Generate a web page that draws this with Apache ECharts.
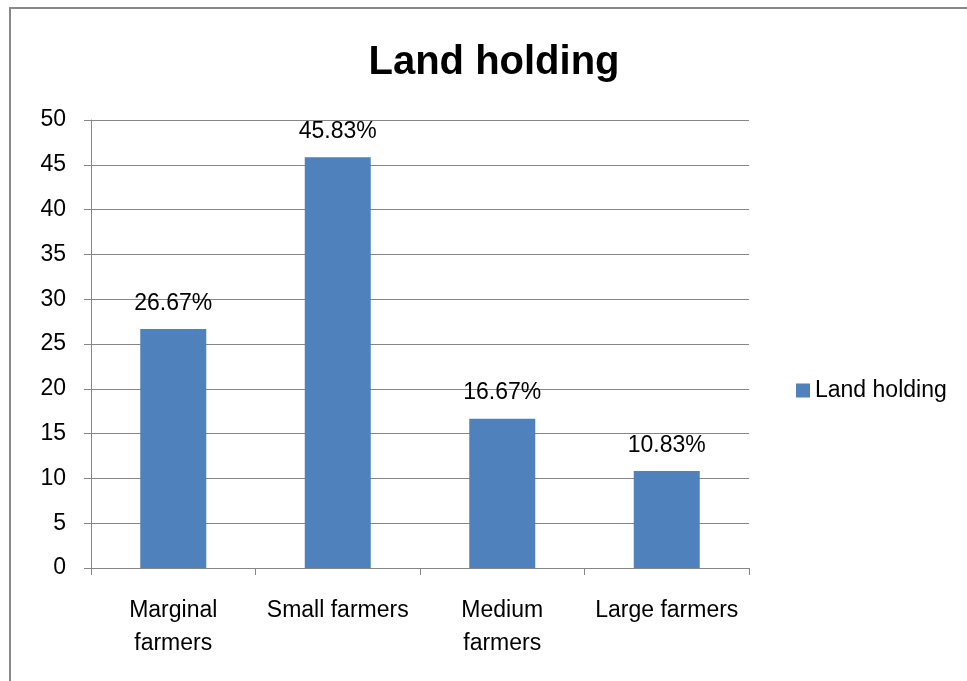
<!DOCTYPE html>
<html><head><meta charset="utf-8">
<script src="https://cdn.jsdelivr.net/npm/echarts@6/dist/echarts.min.js"></script>
<style>html,body{margin:0;padding:0;background:#fff}#c{width:967px;height:681px}</style>
</head><body><div id="c"></div>
<script>
const categories = ['Marginal\nfarmers', 'Small farmers', 'Medium\nfarmers', 'Large farmers'];
const values = [26.67, 45.83, 16.67, 10.83];
const seriesName = 'Land holding';
const titleText = 'Land holding';

const chart = echarts.init(document.getElementById('c'));
const FONT = '"Liberation Sans", "Open Sans", sans-serif';
chart.setOption({
  animation: false,
  backgroundColor: '#fff',
  graphic: [{
    type: 'rect', shape: {x: 10, y: 8, width: 980, height: 700},
    style: {fill: 'none', stroke: '#898989', lineWidth: 2}, silent: true
  }],
  title: {
    text: titleText, left: 489, top: 38, textAlign: 'center',
    textStyle: {fontFamily: FONT, fontSize: 40, fontWeight: 'bold', color: '#000'}
  },
  legend: {
    data: [seriesName], left: 791, top: 374, itemWidth: 14, itemHeight: 14, itemGap: 5,
    icon: 'rect',
    textStyle: {fontFamily: FONT, fontSize: 23, color: '#000'}
  },
  grid: {left: 91, right: 218, top: 120, bottom: 113, containLabel: false},
  xAxis: {
    type: 'category', data: categories,
    axisLine: {lineStyle: {color: '#868686', width: 1}},
    axisTick: {show: true, length: 7, alignWithLabel: false, lineStyle: {color: '#868686'}},
    axisLabel: {fontFamily: FONT, fontSize: 23, color: '#000', margin: 26, lineHeight: 33, interval: 0}
  },
  yAxis: {
    type: 'value', min: 0, max: 50, interval: 5,
    axisLine: {show: true, lineStyle: {color: '#868686'}},
    axisTick: {show: true, length: 7, lineStyle: {color: '#868686'}},
    splitLine: {lineStyle: {color: '#868686', width: 1}},
    axisLabel: {fontFamily: FONT, fontSize: 23, color: '#000', margin: 25}
  },
  series: [{
    name: seriesName, type: 'bar', data: values, barWidth: 66,
    itemStyle: {color: '#4F81BD'},
    label: {show: true, position: 'top', distance: 14, formatter: p => p.value.toFixed(2) + '%',
      fontFamily: FONT, fontSize: 23, color: '#000'}
  }]
});
</script></body></html>
